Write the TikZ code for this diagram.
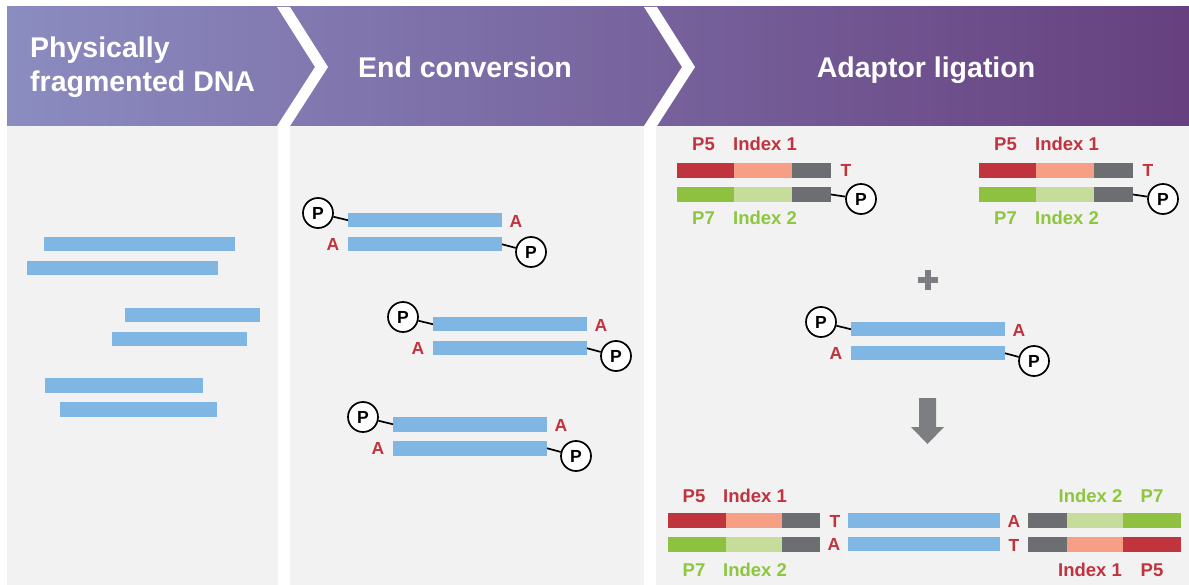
\documentclass[tikz,border=0pt]{standalone}
\usepackage{fontspec}
\setmainfont{Liberation Sans}
\usetikzlibrary{calc}
\definecolor{hdrL}{RGB}{139,140,192}
\definecolor{hdrM}{RGB}{122,106,162}
\definecolor{hdrR}{RGB}{102,64,127}
\definecolor{bodybg}{RGB}{242,242,242}
\definecolor{dnablue}{RGB}{127,182,228}
\definecolor{pfive}{RGB}{192,52,61}
\definecolor{idxone}{RGB}{246,159,133}
\definecolor{adgray}{RGB}{109,110,113}
\definecolor{pseven}{RGB}{141,193,63}
\definecolor{idxtwo}{RGB}{197,220,154}
\definecolor{redtxt}{RGB}{193,51,62}
\definecolor{greentxt}{RGB}{141,198,63}
\definecolor{symgray}{RGB}{125,126,129}
\tikzset{
  hdr/.style={text=white, font=\fontsize{28.5}{34}\selectfont\bfseries, inner sep=0pt},
  bar/.style={fill=dnablue, minimum width=154pt, minimum height=14.5pt, inner sep=0pt, outer sep=0pt, draw=none},
  fbar/.style={fill=dnablue, minimum height=14.5pt, inner sep=0pt, outer sep=0pt, draw=none, anchor=north west},
  segbox/.style={minimum height=15pt, inner sep=0pt, outer sep=0pt, draw=none, anchor=north west},
  pcirc/.style={circle, draw=black, line width=1.7pt, fill=white, minimum size=30pt, inner sep=0pt, font=\fontsize{17.5}{17.5}\selectfont\bfseries},
  pline/.style={line width=1.7pt, black},
  ntlabel/.style={text=redtxt, font=\fontsize{17.5}{17.5}\selectfont\bfseries, inner sep=0pt},
  redlab/.style={text=redtxt, font=\fontsize{18.5}{18.5}\selectfont\bfseries, inner sep=0pt, anchor=base},
  greenlab/.style={text=greentxt, font=\fontsize{18.5}{18.5}\selectfont\bfseries, inner sep=0pt, anchor=base}
}
\newcommand\dsunit[3]{%
  \node[bar,anchor=north west] (#1t) at (#2,#3) {};
  \node[bar,anchor=north west] (#1b) at (#2,#3+24) {};
  \node[pcirc] (#1p) at (#2-30,#3) {P};
  \node[pcirc] (#1q) at (#2+183,#3+39) {P};
  \draw[pline] (#1p) -- (#1t.west);
  \draw[pline] (#1q) -- (#1b.east);
  \node[ntlabel] (#1a) at (#2+168,#3+8) {A};
  \node[ntlabel] (#1c) at (#2-15,#3+31) {A};
}
\newcommand\seg[5]{\node[segbox, fill=#5, minimum width=#3pt] (#1) at (#2,#4) {};}
\begin{document}
\begin{tikzpicture}[x=1pt,y=-1pt]
\useasboundingbox (0,0) rectangle (1189,585);
\fill[white] (0,0) rectangle (1189,585);
% header
\shade[left color=hdrL, middle color=hdrM, right color=hdrR] (7,7) rectangle (1189,126);
% body panels
\fill[bodybg] (7,126) rectangle (278,585);
\fill[bodybg] (290,126) rectangle (644,585);
\fill[bodybg] (656,126) rectangle (1189,585);
% chevrons
\fill[white] (277,7) -- (315,67) -- (277,126) -- (290,126) -- (328,67) -- (290,7) -- cycle;
\fill[white] (644,7) -- (682,67) -- (644,126) -- (657,126) -- (695,67) -- (657,7) -- cycle;
% header texts
\node[hdr, anchor=base west] (h1a) at (30,58) {Physically};
\node[hdr, anchor=base west] (h1b) at (30,92) {fragmented DNA};
\node[hdr, anchor=base] (h2) at (465,78) {End conversion};
\node[hdr, anchor=base] (h3) at (926,78) {Adaptor ligation};
% column 1 fragments
\node[fbar, minimum width=191pt] (f1) at (44,237) {};
\node[fbar, minimum width=191pt] (f2) at (27,261) {};
\node[fbar, minimum width=135pt] (f3) at (125,308) {};
\node[fbar, minimum width=135pt] (f4) at (112,332) {};
\node[fbar, minimum width=158pt] (f5) at (45,378) {};
\node[fbar, minimum width=157pt] (f6) at (60,402) {};
% column 2
\dsunit{ga}{348}{213}
\dsunit{gb}{433}{317}
\dsunit{gc}{393}{417}
% column 3 : adaptors
\seg{a1r}{677}{57}{163}{pfive}
\seg{a1s}{734}{58}{163}{idxone}
\seg{a1g}{792}{39}{163}{adgray}
\seg{a1v}{677}{57}{187}{pseven}
\seg{a1l}{734}{58}{187}{idxtwo}
\seg{a1h}{792}{39}{187}{adgray}
\node[pcirc] (a1p) at (861,199) {P};
\draw[pline] (a1h.east) -- (a1p);
\node[ntlabel] (a1t) at (846,170) {T};
\node[redlab] (a1n1) at (703.5,151) {P5};
\node[redlab] (a1n2) at (765,151) {Index 1};
\node[greenlab] (a1n3) at (703.5,225) {P7};
\node[greenlab] (a1n4) at (765,225) {Index 2};
%
\seg{a2r}{979}{57}{163}{pfive}
\seg{a2s}{1036}{58}{163}{idxone}
\seg{a2g}{1094}{39}{163}{adgray}
\seg{a2v}{979}{57}{187}{pseven}
\seg{a2l}{1036}{58}{187}{idxtwo}
\seg{a2h}{1094}{39}{187}{adgray}
\node[pcirc] (a2p) at (1163,199) {P};
\draw[pline] (a2h.east) -- (a2p);
\node[ntlabel] (a2t) at (1148,170) {T};
\node[redlab] (a2n1) at (1005.5,151) {P5};
\node[redlab] (a2n2) at (1067,151) {Index 1};
\node[greenlab] (a2n3) at (1005.5,225) {P7};
\node[greenlab] (a2n4) at (1067,225) {Index 2};
% plus
\fill[symgray] (918,277) rectangle (938,283);
\fill[symgray] (925,270) rectangle (931,290);
% insert
\dsunit{gd}{851}{322}
% arrow
\fill[symgray] (919,398) -- (936,398) -- (936,427) -- (944,427) -- (927.5,444) -- (911,427) -- (919,427) -- cycle;
% final product
\seg{br1}{668}{58}{513}{pfive}
\seg{bs1}{726}{56}{513}{idxone}
\seg{bg1}{782}{38}{513}{adgray}
\seg{bv1}{668}{58}{536.5}{pseven}
\seg{bl1}{726}{56}{536.5}{idxtwo}
\seg{bg2}{782}{38}{536.5}{adgray}
\node[fbar, minimum width=152pt] (bb1) at (848,513) {};
\node[fbar, minimum width=152pt] (bb2) at (848,536.5) {};
\seg{bg3}{1028}{39}{513}{adgray}
\seg{bl2}{1067}{56}{513}{idxtwo}
\seg{bv2}{1123}{58}{513}{pseven}
\seg{bg4}{1028}{39}{536.5}{adgray}
\seg{bs2}{1067}{56}{536.5}{idxone}
\seg{br2}{1123}{58}{536.5}{pfive}
\node[ntlabel] (bt1) at (835,521) {T};
\node[ntlabel] (ba1) at (834,544) {A};
\node[ntlabel] (ba2) at (1014,521) {A};
\node[ntlabel] (bt2) at (1014,545) {T};
\node[redlab] (bn1) at (694,502) {P5};
\node[redlab] (bn2) at (755,502) {Index 1};
\node[greenlab] (bn3) at (694,576) {P7};
\node[greenlab] (bn4) at (755,576) {Index 2};
\node[greenlab] (bn5) at (1090.5,502) {Index 2};
\node[greenlab] (bn6) at (1152,502) {P7};
\node[redlab] (bn7) at (1090,576) {Index 1};
\node[redlab] (bn8) at (1152,576) {P5};
\end{tikzpicture}
\end{document}
